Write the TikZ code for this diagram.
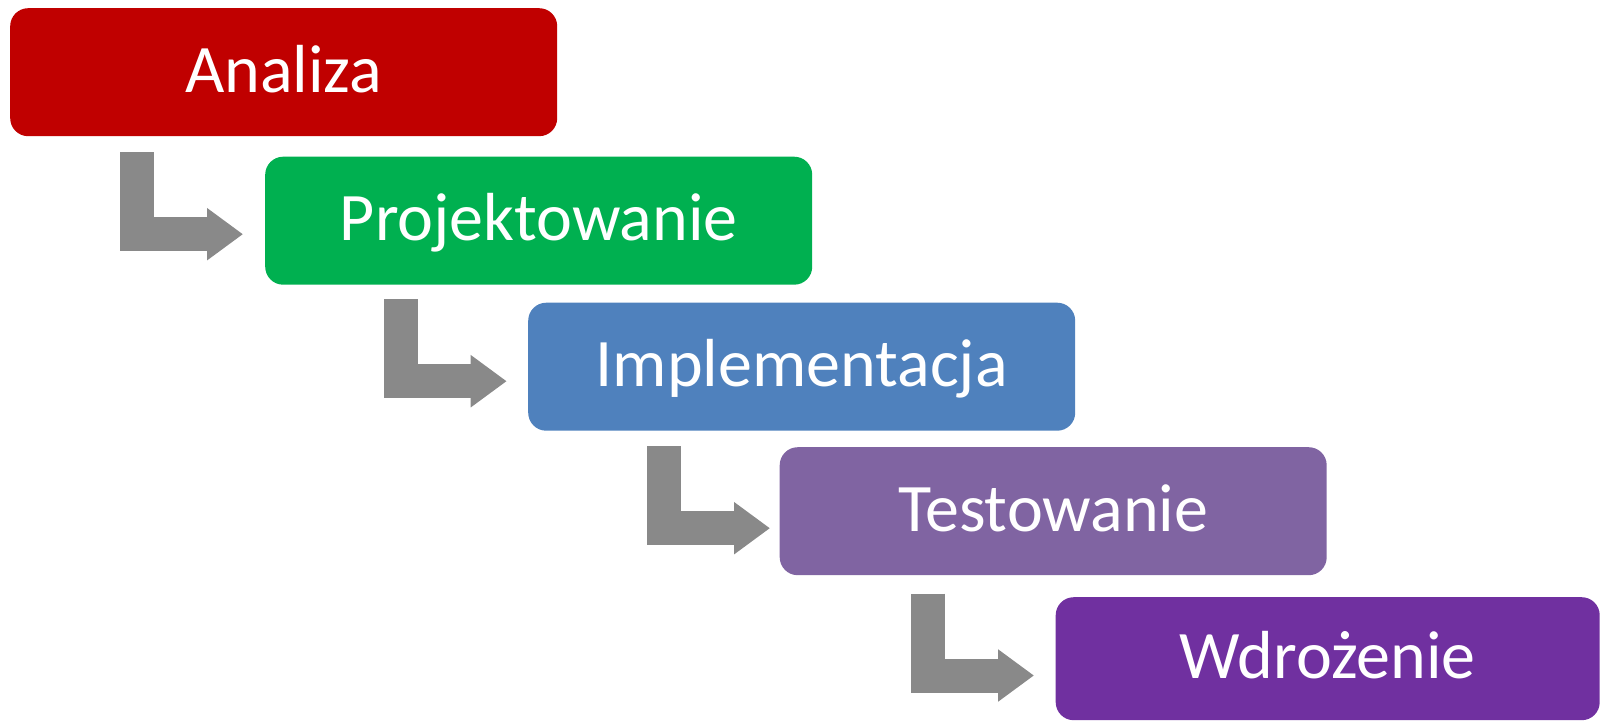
\documentclass[tikz,border=0pt]{standalone}
\usepackage{fontspec}
\setmainfont{Carlito}
\usetikzlibrary{arrows.meta,calc}
\definecolor{cRed}{HTML}{C00000}
\definecolor{cGreen}{HTML}{00B050}
\definecolor{cBlue}{HTML}{4F81BD}
\definecolor{cLav}{HTML}{8064A2}
\definecolor{cPur}{HTML}{7030A0}
\definecolor{cGray}{HTML}{898989}
\tikzset{
  stage/.style={rectangle, rounded corners=18pt, minimum width=547pt, minimum height=128pt,
    inner sep=0pt, text=white, font=\fontsize{68}{72}\selectfont,
    text height=40pt, text depth=0pt, anchor=north west},
  bentarrow/.style={draw=cGray, line width=34pt, line join=miter,
    -{Triangle[width=50pt,length=36pt]}}
}
\begin{document}
\begin{tikzpicture}[x=1pt,y=-1pt]
\useasboundingbox (0,0) rectangle (1600,720);
\node[stage, fill=cRed]   (a) at (10,8)       {Analiza};
\node[stage, fill=cGreen] (b) at (265,156.5)  {Projektowanie};
\node[stage, fill=cBlue]  (c) at (528,302.5)  {Implementacja};
\node[stage, fill=cLav]   (d) at (779.5,447)  {Testowanie};
\node[stage, fill=cPur, minimum width=544pt, minimum height=123pt] (e) at (1055.5,597) {Wdrożenie};
\foreach \p/\q/\sx/\sy/\ex/\ey in {a/b/127.4/16/-22/13.5, b/c/135.9/14.5/-21.3/14.5,
    c/d/136.3/15.5/-9.5/17, d/e/148.4/18.3/-21.5/16.8}{
  \draw[bentarrow] ($(\p.south west)+(\sx,\sy)$) |- ($(\q.west)+(\ex,\ey)$);
}
\end{tikzpicture}
\end{document}
